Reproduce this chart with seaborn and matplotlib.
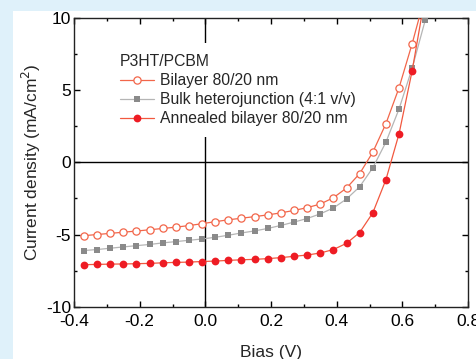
import matplotlib
matplotlib.use("Agg")
import matplotlib.pyplot as plt
import matplotlib.ticker as ticker
from matplotlib.patches import Rectangle
import pandas as pd
import seaborn as sns

# dados
bias = [-0.37, -0.33, -0.29, -0.25, -0.21, -0.17, -0.13, -0.09, -0.05, -0.01,
        0.03, 0.07, 0.11, 0.15, 0.19, 0.23, 0.27, 0.31, 0.35, 0.39,
        0.43, 0.47, 0.51, 0.55, 0.59, 0.63, 0.67]

bilayer = [-5.08, -5.00, -4.92, -4.84, -4.76, -4.67, -4.58, -4.49, -4.38, -4.25,
           -4.11, -3.98, -3.87, -3.76, -3.64, -3.50, -3.33, -3.14, -2.89, -2.45,
           -1.78, -0.78, 0.70, 2.68, 5.17, 8.23, 11.6]

bulk = [-6.11, -6.04, -5.95, -5.86, -5.77, -5.69, -5.58, -5.49, -5.40, -5.31,
        -5.19, -5.05, -4.89, -4.75, -4.58, -4.37, -4.14, -3.89, -3.57, -3.16,
        -2.54, -1.69, -0.38, 1.40, 3.70, 6.53, 9.87]

annealed = [-7.09, -7.07, -7.05, -7.04, -7.02, -7.00, -6.96, -6.93, -6.91, -6.87,
            -6.84, -6.79, -6.75, -6.72, -6.67, -6.60, -6.51, -6.42, -6.28, -6.04,
            -5.61, -4.86, -3.50, -1.20, 1.98, 6.35, 11.6]

rotulos = ["Bilayer 80/20 nm", "Bulk heterojunction (4:1 v/v)", "Annealed bilayer 80/20 nm"]

df = pd.DataFrame({"bias": bias, "bilayer": bilayer, "bulk": bulk, "annealed": annealed})

sns.set_style("ticks")
plt.rcParams["font.family"] = ["Liberation Sans", "DejaVu Sans"]
plt.rcParams["axes.unicode_minus"] = False

fig = plt.figure(figsize=(4.76, 3.59), dpi=100, facecolor="#dff1fa")
# fundo branco do painel (a borda azul fica so na esquerda e no topo)
fig.patches.append(Rectangle((13 / 476, 0), 1, 1 - 11 / 359, transform=fig.transFigure,
                             facecolor="white", edgecolor="none", zorder=-5))
ax = fig.add_axes([74 / 476, 1 - 306.7 / 359, (468 - 74) / 476, (306.7 - 18) / 359])
ax.set_zorder(2)

ax.axhline(0, color="black", lw=1, zorder=1)
ax.axvline(0, color="black", lw=1, zorder=1)

sns.lineplot(data=df, x="bias", y="bilayer", ax=ax, color="#f2664a", lw=0.9,
             marker="o", markersize=5.2, markerfacecolor="white",
             markeredgecolor="#f2664a", markeredgewidth=0.9, label=rotulos[0], zorder=3)
sns.lineplot(data=df, x="bias", y="bulk", ax=ax, color="#b5b5b5", lw=0.9,
             marker="s", markersize=4.6, markerfacecolor="#8a8a8a",
             markeredgecolor="#8a8a8a", markeredgewidth=0, label=rotulos[1], zorder=3)
sns.lineplot(data=df, x="bias", y="annealed", ax=ax, color="#f2583f", lw=0.9,
             marker="o", markersize=5.6, markerfacecolor="#ee1c24",
             markeredgecolor="#ee1c24", markeredgewidth=0, label=rotulos[2], zorder=3)

ax.set_xlim(-0.4, 0.8)
ax.set_ylim(-10, 10)
ax.xaxis.set_major_locator(ticker.MultipleLocator(0.2))
ax.xaxis.set_minor_locator(ticker.MultipleLocator(0.1))
ax.yaxis.set_major_locator(ticker.MultipleLocator(5))
ax.yaxis.set_minor_locator(ticker.MultipleLocator(2.5))
ax.xaxis.set_major_formatter(ticker.StrMethodFormatter("{x:.1f}"))
ax.yaxis.set_major_formatter(ticker.FuncFormatter(lambda v, p: f"{v:.0f}"))
ax.tick_params(which="both", direction="in", top=True, right=True, width=1,
               labelsize=12.5, colors="black")
ax.tick_params(axis="x", pad=5)
ax.tick_params(axis="y", pad=2)
ax.tick_params(which="major", length=4.5)
ax.tick_params(which="minor", length=2.5)
for s in ax.spines.values():
    s.set_linewidth(1)
    s.set_color("#222222")

ax.set_xlabel("Bias (V)", fontsize=12.5, labelpad=12)
ax.set_ylabel("Current density (mA/cm$^2$)", fontsize=12.5, labelpad=2)

leg = ax.legend(title="P3HT/PCBM", loc="upper left", bbox_to_anchor=(0.088, 0.913),
                frameon=True, facecolor="white", edgecolor="none", framealpha=1,
                fancybox=False, fontsize=11.3, title_fontsize=11.3, handlelength=2.2,
                handletextpad=0.35, labelspacing=0.26, borderpad=0.7, borderaxespad=0)
leg._legend_box.align = "left"

fig.savefig("out.png", dpi=100, facecolor=fig.get_facecolor())
